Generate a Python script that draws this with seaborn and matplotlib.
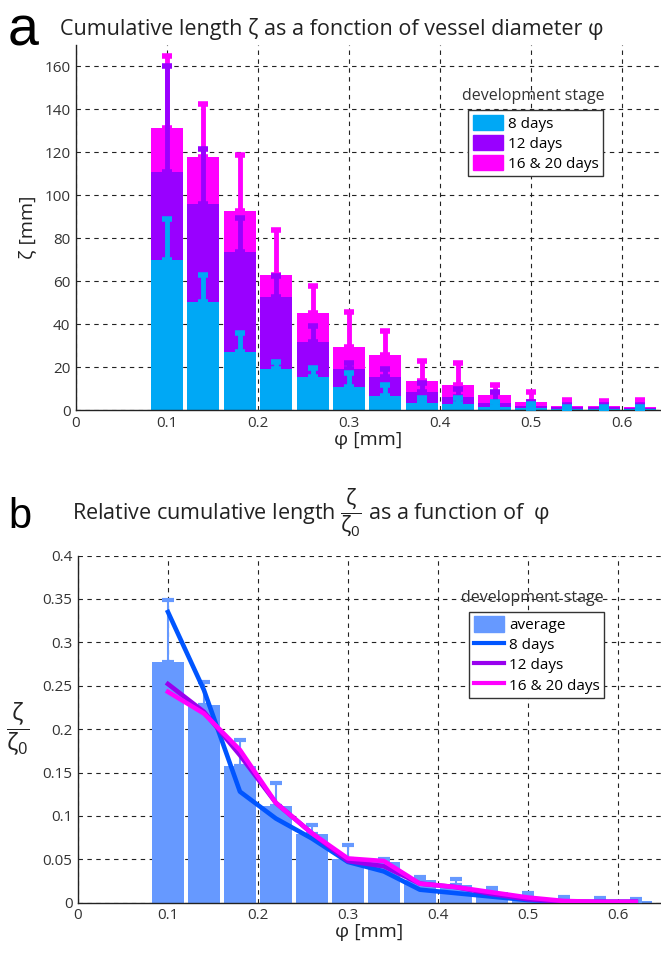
import numpy as np
import pandas as pd
import matplotlib
matplotlib.use("Agg")
from matplotlib import pyplot as plt
from matplotlib.patches import Patch
from matplotlib.lines import Line2D
from matplotlib.ticker import FormatStrFormatter
import seaborn as sns

# vessel diameter classes (mm)
phi = [0.10, 0.14, 0.18, 0.22, 0.26, 0.30, 0.34, 0.38, 0.42, 0.46, 0.50, 0.54, 0.58, 0.62]

# panel a: cumulative length per stage (mm), stacked
len_8d = [70, 50.5, 27.2, 19.1, 15.2, 10.6, 6.5, 3.1, 2.8, 1.5, 0.8, 0.5, 0.3, 0.4]
len_12d = [41, 45.3, 46.4, 33.5, 16.6, 8.4, 9.0, 5.4, 3.4, 1.6, 1.2, 0.7, 0.9, 0.7]
len_16d = [20.4, 21.9, 19.1, 10.3, 13.2, 10.5, 10.1, 5.0, 5.3, 3.7, 1.9, 0.7, 0.7, 0.5]
err_8d = [19, 12.2, 8.5, 3.1, 4.5, 6.8, 5.1, 2.6, 2.6, 2.4, 1.8, 1.0, 0.9, 0.8]
err_12d = [49, 25.6, 16, 9.8, 7.2, 3.0, 3.5, 4.2, 3.4, 5.1, 1.9, 1.3, 1.3, 1.2]
err_16d = [33.6, 24.7, 26.1, 21, 12.9, 16.3, 11.4, 9.5, 10.2, 4.8, 4.6, 2.8, 2.3, 3.1]

# panel b: relative cumulative length
rel_avg = [0.277, 0.228, 0.158, 0.112, 0.079, 0.050, 0.047, 0.026, 0.020, 0.012, 0.006, 0.004, 0.003, 0.002]
rel_avg_err = [0.072, 0.026, 0.030, 0.026, 0.011, 0.016, 0.003, 0.004, 0.007, 0.005, 0.005, 0.002, 0.002, 0.002]
rel_8d = [0.335, 0.245, 0.128, 0.097, 0.074, 0.047, 0.036, 0.015, 0.011, 0.007, 0.003, 0.001, 0.001, 0.001]
rel_12d = [0.252, 0.220, 0.170, 0.115, 0.080, 0.048, 0.042, 0.022, 0.018, 0.010, 0.004, 0.001, 0.001, 0.001]
rel_16d = [0.243, 0.218, 0.176, 0.115, 0.080, 0.051, 0.048, 0.022, 0.018, 0.012, 0.006, 0.002, 0.001, 0.001]

C_8 = "#00a8f5"
C_12 = "#9900ff"
C_16 = "#ff00ff"
C_AVG = "#6699ff"
L_8 = "#0055ff"
L_12 = "#9900ee"
L_16 = "#ff00ff"

FONT = ["Open Sans", "DejaVu Sans"]
plt.rcParams["font.family"] = FONT
plt.rcParams["mathtext.fontset"] = "custom"
plt.rcParams["mathtext.rm"] = "Open Sans"
plt.rcParams["mathtext.it"] = "Open Sans"


def style_axes(ax, xmax, ymax, yticks, fmt):
    ax.set_xlim(0, xmax)
    ax.set_ylim(0, ymax)
    ax.set_xticks([0, 0.1, 0.2, 0.3, 0.4, 0.5, 0.6])
    ax.set_yticks(yticks)
    ax.xaxis.set_major_formatter(FormatStrFormatter("%g"))
    ax.yaxis.set_major_formatter(FormatStrFormatter(fmt))
    ax.set_axisbelow(True)
    ax.grid(True, linestyle=(0, (4, 4)), color="#222222", linewidth=0.8)
    for s in ["top", "right"]:
        ax.spines[s].set_visible(False)
    for s in ["left", "bottom"]:
        ax.spines[s].set_color("#222222")
        ax.spines[s].set_linewidth(1.0)
    ax.tick_params(length=0, labelsize=11, colors="#333333", pad=4)
    ax.set_xlabel("")
    ax.set_ylabel("")


def main():
    fig = plt.figure(figsize=(6.61, 9.55), dpi=100)
    W, H = 661, 955

    # ---------- panel a ----------
    ax1 = fig.add_axes([76 / W, 1 - 410 / H, 585 / W, 365 / H])
    df = pd.DataFrame({"phi": phi, "l8": len_8d, "l12": len_12d, "l16": len_16d})
    df["top8"] = df["l8"]
    df["top12"] = df["l8"] + df["l12"]
    df["top16"] = df["top12"] + df["l16"]

    for col, c in [("top16", C_16), ("top12", C_12), ("top8", C_8)]:
        sns.barplot(data=df, x="phi", y=col, native_scale=True, width=0.88,
                    color=c, saturation=1, errorbar=None, linewidth=0, ax=ax1)
    for col, err, c in [("top16", err_16d, C_16), ("top12", err_12d, C_12), ("top8", err_8d, C_8)]:
        ax1.errorbar(df["phi"], df[col], yerr=[np.zeros(len(err)), err], fmt="none",
                     ecolor=c, elinewidth=3.5, capsize=3.5, capthick=4, zorder=5)

    style_axes(ax1, 0.643, 170, range(0, 161, 20), "%g")
    ax1.set_xlabel("φ [mm]", fontsize=14, labelpad=0, color="#222222")
    ax1.set_ylabel("ζ [mm]", fontsize=14, labelpad=6, color="#222222")

    h1 = [Patch(facecolor=C_8, edgecolor=C_8), Patch(facecolor=C_12, edgecolor=C_12),
          Patch(facecolor=C_16, edgecolor=C_16)]
    leg = ax1.legend(h1, ["8 days", "12 days", "16 & 20 days"], loc="upper left",
                     bbox_to_anchor=(0.670, 0.822), fontsize=11, frameon=True,
                     fancybox=False, edgecolor="#333333", framealpha=1,
                     handlelength=2.0, handleheight=1.2, handletextpad=0.3,
                     borderpad=0.3, labelspacing=0.2, borderaxespad=0)
    leg.get_frame().set_linewidth(1.0)
    ax1.text(0.781, 0.860, "development stage", transform=ax1.transAxes,
             ha="center", va="center", fontsize=11.5, color="#333333")

    fig.text(8 / W, 1 - 46 / H, "a", fontsize=40, family="Liberation Sans",
             va="baseline", ha="left")
    fig.text(60 / W, 1 - 35 / H, "Cumulative length ζ as a fonction of vessel diameter φ",
             fontsize=15.5, va="baseline", ha="left", color="#222222")

    # ---------- panel b ----------
    ax2 = fig.add_axes([78 / W, 1 - 902.7 / H, 583 / W, 347.1 / H])
    df2 = pd.DataFrame({"phi": phi, "avg": rel_avg, "d8": rel_8d, "d12": rel_12d, "d16": rel_16d})
    sns.barplot(data=df2, x="phi", y="avg", native_scale=True, width=0.88,
                color=C_AVG, saturation=1, errorbar=None, linewidth=0, ax=ax2)
    ax2.errorbar(df2["phi"], df2["avg"], yerr=[np.zeros(len(rel_avg_err)), rel_avg_err],
                 fmt="none", ecolor=C_AVG, elinewidth=1.5, capsize=4, capthick=3, zorder=3)
    for col, c in [("d8", L_8), ("d12", L_12), ("d16", L_16)]:
        sns.lineplot(data=df2, x="phi", y=col, color=c, linewidth=3.3, ax=ax2, zorder=6)

    style_axes(ax2, 0.648, 0.4, np.arange(0, 0.401, 0.05), "%g")
    ax2.set_xlabel("φ [mm]", fontsize=14, labelpad=0, color="#222222")
    ax2.set_ylabel(r"$\dfrac{\zeta}{\zeta_0}$", fontsize=17, rotation=0,
                   labelpad=18, va="center", color="#222222")

    h2 = [Patch(facecolor=C_AVG, edgecolor=C_AVG),
          Line2D([], [], color=L_8, lw=3), Line2D([], [], color=L_12, lw=3),
          Line2D([], [], color=L_16, lw=3)]
    leg2 = ax2.legend(h2, ["average", "8 days", "12 days", "16 & 20 days"], loc="upper left",
                      bbox_to_anchor=(0.671, 0.838), fontsize=11, frameon=True,
                      fancybox=False, edgecolor="#333333", framealpha=1,
                      handlelength=2.0, handleheight=1.2, handletextpad=0.3,
                      borderpad=0.3, labelspacing=0.2, borderaxespad=0)
    leg2.get_frame().set_linewidth(1.0)
    ax2.text(0.780, 0.878, "development stage", transform=ax2.transAxes,
             ha="center", va="center", fontsize=11.5, color="#333333")

    fig.text(8 / W, 1 - 528 / H, "b", fontsize=30, family="Liberation Sans",
             va="baseline", ha="left")
    fig.text(72 / W, 1 - 520 / H,
             r"Relative cumulative length $\dfrac{\zeta}{\zeta_0}$ as a function of  φ",
             fontsize=15.5, va="baseline", ha="left", color="#222222")

    fig.savefig("out.png", dpi=100)


if __name__ == '__main__':
    main()
